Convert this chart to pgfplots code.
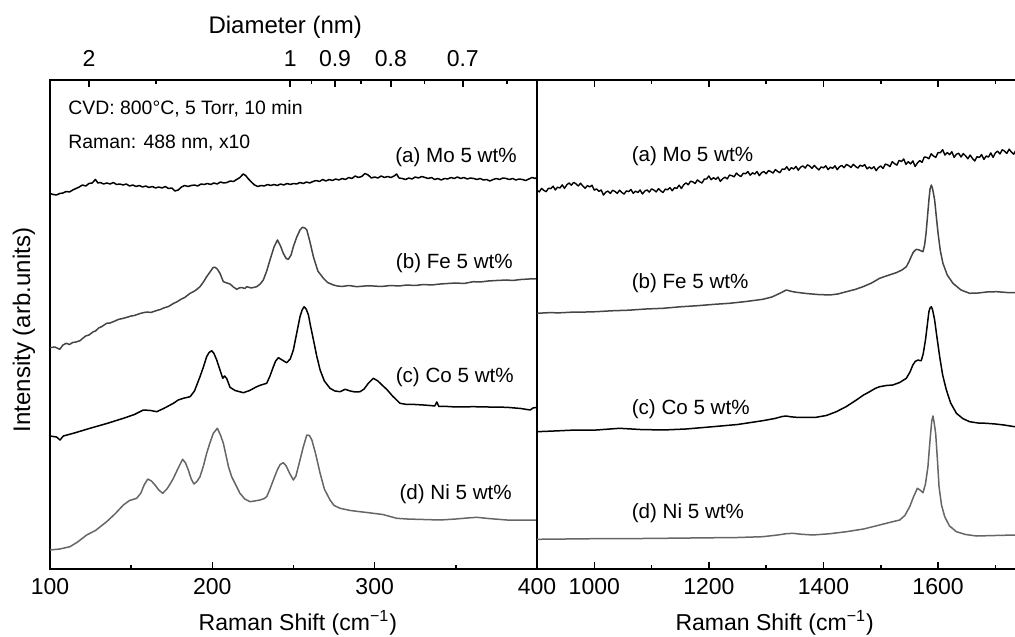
\documentclass[border=0pt]{standalone}
\usepackage{fontspec}
\setmainfont{Liberation Sans}
\usepackage{pgfplots}
\pgfplotsset{compat=1.18}

\definecolor{fegray}{gray}{0.27}
\definecolor{nigray}{gray}{0.40}

\pgfplotsset{
  panel/.style={
    scale only axis, width=243.5pt, height=244pt,
    ymin=0.5, ymax=488.5, ytick=\empty,
    axis line style={line width=1pt},
    major tick length=3.5pt, minor tick length=2pt,
    tick style={black, line width=0.8pt}, tick align=inside,
    /pgf/number format/assume math mode=true,
    /pgf/number format/1000 sep={},
    xticklabel style={font=\fontsize{11.5}{13}\selectfont},
    xticklabel shift=1.3pt,
    xlabel style={font=\fontsize{11.5}{13}\selectfont, anchor=center},
  },
  spec/.style={line width=0.75pt, line join=round},
}

\begin{document}
\begin{tikzpicture}
% left panel: RBM region
\begin{axis}[panel,
  xmin=100, xmax=400,
  xtick={100,200,300,400}, minor xtick={150,250,350}, xtick pos=left,
  xlabel={Raman Shift (cm\textsuperscript{−1})},
  xlabel style={at={(axis description cs:0.509,-0.1117)}},
  ylabel={Intensity (arb.units)},
  ylabel style={font=\fontsize{12}{14}\selectfont, anchor=center, at={(axis description cs:-0.0534,0.4887)}},
]
% (a) Mo
\addplot[spec, black] coordinates {
(100,375.5)(102,374.5)(104,374)(106,375.5)(108,376)(110,377.5)(112,377)(114,379)(116,380.5)(118,382)
(120,384)(122,383)(124,385.5)(126,386)(128,389.5)(129.5,386)(131,386.5)(133,385)(135,386)(137,385)
(139,386.5)(141,384.5)(143,385)(145,384)(147,385)(149,383)(151,384)(153,382.5)(155,383.5)(157,382)
(159,383)(161,381.5)(163,382.5)(165,381)(167,382)(169,381)(171,382.5)(173,380.5)(175,381)(177,378)
(179,379)(181,382)(183,383.5)(185,382.5)(187,383.5)(189,384)(191,383)(193,385)(195,384.5)(197,385.5)
(199,384.5)(201,386)(203,385)(205,387)(207,386)(209,386.5)(211,388)(213,387.5)(215,389.5)(217,391.5)
(219,395)(220.5,393.5)(222,390.5)(224,387)(226,384)(228,382.5)(230,383.5)(232,383)(234,384.5)(236,383.5)
(238,384.5)(240,383.5)(242,385)(244,384)(246,385.5)(248,384.5)(250,385.5)(252,385)(254,386.5)(256,385.5)
(258,387)(260,386)(262,387.5)(264,388.5)(266,387.5)(268,389.5)(270,388)(272,389.5)(274,388.5)(276,390)
(278,389)(280,390.5)(282,389.5)(284,391.5)(286,390.5)(288,393)(290,391.5)(292,392.5)(294,395.5)(296,394)
(298,391)(300,392)(302,391)(304,393)(306,391.5)(308,392.5)(310,391.5)(312,393)(313.5,395)(315,391)
(317,390.5)(319,389.5)(321,391)(323,390)(325,392)(327,391)(329,392.5)(331,391.5)(333,390.5)(335,391.5)
(337,389.5)(339,390.5)(341,389)(343,390.5)(345,390)(347,391.5)(349,390.5)(351,392)(353,390.5)(355,391.5)
(357,390)(359,391)(361,390.5)(363,389.5)(365,390.5)(367,389)(369,389.5)(371,388)(373,389.5)(375,390.5)
(377,389.5)(379,391)(381,390.5)(383,389.5)(385,390.5)(387,389)(389,390)(391,389.5)(393,388.5)(395,390)
(397,391.5)(399,390.5)(400,392)
};
% (b) Fe
\addplot[spec, fegray] coordinates {
(100,221.3)(103,222)(106,219.7)(108,224)(110,225.7)(112,224.5)(114,226.5)(116,227)(118.5,228.3)(120,230.5)
(122,233)(124,234)(126.7,237.3)(128,238)(130,241)(132,242.5)(134.9,245.7)(137,246)(140,248)(142,249.5)
(145.2,250.7)(147,251.5)(150,253)(152,253.5)(155.5,255.5)(158,256.5)(160,257)(162,256.5)(165.7,258.5)(168,259.5)
(170,261)(173,262.5)(176,265.5)(178,267)(181,270)(183,271.5)(186.3,275.7)(188,277)(190,279)(192.4,282.3)
(194.5,287)(196.5,292.3)(199,298)(200.5,301.5)(201.7,301.7)(203,300)(204.7,295.7)(206.8,287.3)(209,286)(210.9,285)
(213,282)(215,279.7)(216.5,281)(218,281.5)(220,280.5)(221.2,282.3)(224,281)(227.3,282.3)(229.5,285)(231.4,289)
(233.5,298)(235.5,309)(238,322)(240.1,329)(242,323)(243.7,315.7)(245.5,310.5)(246.8,309.7)(248.5,314)(249.9,322.3)
(252,332)(254,339)(255.5,341.7)(257,341)(258.2,339)(260,328)(262.3,312)(265,298)(268.4,290.7)(271,286.5)
(274.6,284)(277,283)(280,282.5)(284,283.5)(289,282.3)(294,283)(299,283)(304,282.5)(310,283.5)(315,283)
(319.8,284)(325,283.5)(330,284.5)(335,284)(340.3,285)(345,285.5)(350,286)(355,285.5)(360.8,287.3)(365,287)
(370,288)(375,288.5)(381.4,289)(385,288.5)(390,289.5)(395,290)(400,290.3)
};
% (c) Co
\addplot[spec, black] coordinates {
(100,133)(104,132)(106.2,129)(108.2,133)(115,136)(124.6,140.7)(135,145.5)(145.2,150.7)(152,154.5)(157.5,159)
(162,158.5)(165.7,157.3)(170,160.5)(176,165.7)(179,169)(182.1,170.7)(186.3,172.3)(189,178)(192.4,192.3)(194.5,202)
(196.5,212.3)(198,216.5)(199.6,218.3)(201,215.5)(202.7,209)(204.5,200)(206.4,190.7)(207.5,193)(208.8,190.7)(210.9,181.7)
(214,178.5)(219.1,176.3)(223,178.5)(227.3,182.3)(230,184)(233.5,185.7)(235.5,193)(237.6,202.3)(239,208)(240.7,211.3)
(242.5,209.5)(245.8,206.3)(248,210)(249.9,219)(252,236)(254,252.3)(255.3,259)(256.5,262.3)(257.8,260)(259.2,254)
(260.5,243)(262.3,229)(264.3,213)(266.4,199)(269,188)(272.5,180.7)(275.5,178)(278.7,177.3)(281.8,179.7)(285,178)
(288,177)(291,177.3)(293.5,180)(296,185.5)(299.2,190.7)(302,188)(304.5,184)(307.4,179.7)(311,173)(315.6,165.7)
(320,164.5)(325,164.5)(330,164)(334,163.5)(337,163)(338.3,167)(339.5,162.5)(345,162.5)(350,162)(360.8,162.3)
(370,162)(381.4,161.7)(390,160.5)(395.8,159)(397.5,161)(400,161.7)
};
% (d) Ni
\addplot[spec, nigray] coordinates {
(100,19)(106,20)(112.3,22.3)(117,27)(122.6,34)(128,38.5)(134.9,47.3)(140,55)(145.2,64)(149,68.5)
(153.4,70.7)(156,76)(158,84)(160.2,90)(162.5,88)(164.7,84)(167,79)(169.4,75.7)(172,80)(174,85)
(176,90.7)(179,101)(181.7,109.7)(183.5,106)(185.2,99)(187,90)(188.7,85)(190.5,87.5)(192.4,92.3)(194.5,103)
(196.5,115.7)(198.5,126)(200.6,135.7)(203.1,140.7)(205,134)(206.8,125.7)(208.5,113)(210,102)(211.9,92.3)(214,85.5)
(217,75.7)(220,70)(223.2,67.3)(226,68)(229.4,69)(232,70.5)(233.5,72.3)(235.5,80)(237.6,89)(240,99)
(241.8,104.5)(243.7,106.3)(245.5,103)(247.5,96)(249.9,89)(251.5,93)(254,109)(256,122)(258.2,134)(259.8,133.5)
(261.3,129)(263.5,116)(266.4,95.7)(269,80)(272.5,69)(275,63.5)(278.7,60.7)(285,58.5)(290,57.5)(299.2,55.7)
(305,54.5)(313.6,50.7)(320,50)(330,49.5)(340.3,49)(350,50)(357,51)(362.9,51.7)(370,50.5)(381.4,49)
(390,49)(400,49)
};
\node[anchor=west, inner sep=0pt, font=\fontsize{9.7}{11}\selectfont] at (axis cs:111.1,460) {CVD: 800°C, 5 Torr, 10 min};
\node[anchor=west, inner sep=0pt, font=\fontsize{9.7}{11}\selectfont] at (axis cs:111.1,426) {Raman: 488 nm, x10};
\node[anchor=east, inner sep=0pt, font=\fontsize{10.3}{12}\selectfont] at (axis cs:387.7,412) {(a) Mo 5 wt\%};
\node[anchor=east, inner sep=0pt, font=\fontsize{10.3}{12}\selectfont] at (axis cs:385.3,306) {(b) Fe 5 wt\%};
\node[anchor=east, inner sep=0pt, font=\fontsize{10.3}{12}\selectfont] at (axis cs:385.9,192) {(c) Co 5 wt\%};
\node[anchor=east, inner sep=0pt, font=\fontsize{10.3}{12}\selectfont] at (axis cs:384.7,75) {(d) Ni 5 wt\%};
\end{axis}

% top diameter axis of left panel, d = 248/w
\begin{axis}[panel,
  xmin=100, xmax=400,
  axis x line*=top, axis y line=none,
  xtick={124,248,275.56,310,354.29}, xticklabels={2,1,0.9,0.8,0.7},
  minor xtick={165.33,261.05,291.76,330.67,381.54},
  xticklabel shift=3.3pt,
  xlabel={Diameter (nm)},
  xlabel style={font=\fontsize{12}{14}\selectfont, at={(axis description cs:0.483,1.1096)}},
]
\end{axis}

% right panel: D and G bands
\begin{axis}[panel, at={(243.5pt,0)}, anchor=south west,
  xmin=900, xmax=1750,
  xtick={1000,1200,1400,1600}, minor xtick={1100,1300,1500,1700},
  xlabel={Raman Shift (cm\textsuperscript{−1})},
  xlabel style={at={(axis description cs:0.488,-0.1117)}},
]
% (a) Mo
\addplot[spec, black, line width=0.7pt] coordinates {
(900,378.8)(904,377.1)(908,380.6)(912,378.6)(916,377.3)(920,380.8)(924,380.4)(928,382.8)(932,379.1)(936,381.8)
(940,381.0)(944,384.1)(948,380.7)(952,384.2)(956,386.0)(960,383.8)(964,386.6)(968,385.2)(972,383.0)(976,385.8)
(980,382.9)(984,380.7)(988,383.4)(992,382.1)(996,383.7)(1000,378.9)(1004,380.1)(1008,377.6)(1012,379.0)(1016,373.9)
(1020,376.8)(1024,377.9)(1028,375.6)(1032,378.7)(1036,377.6)(1040,375.6)(1044,378.8)(1048,376.5)(1052,374.9)(1056,378.1)
(1060,377.4)(1064,379.5)(1068,375.6)(1072,377.9)(1076,376.5)(1080,379.0)(1084,375.0)(1088,377.9)(1092,379.1)(1096,376.9)
(1100,380.1)(1104,379.0)(1108,377.1)(1112,380.3)(1116,378.1)(1120,376.5)(1124,379.9)(1128,379.2)(1132,381.4)(1136,378.2)
(1140,381.3)(1144,380.6)(1148,383.8)(1152,380.5)(1156,384.2)(1160,386.1)(1164,384.2)(1168,387.8)(1172,387.1)(1176,385.5)
(1180,389.1)(1184,387.2)(1188,386.0)(1192,389.9)(1196,390.0)(1200,393.0)(1204,389.3)(1208,391.3)(1212,389.7)(1216,391.9)
(1220,387.6)(1224,390.2)(1228,391.8)(1232,390.1)(1236,393.9)(1240,393.4)(1244,392.1)(1248,395.9)(1252,393.8)(1256,392.4)
(1260,395.8)(1264,395.2)(1268,397.5)(1272,393.8)(1276,396.2)(1280,394.9)(1284,397.4)(1288,393.4)(1292,396.3)(1296,397.5)
(1300,395.2)(1304,398.4)(1308,397.4)(1312,395.9)(1316,399.4)(1320,397.6)(1324,396.3)(1328,400.0)(1332,399.6)(1336,402.2)
(1340,398.6)(1344,401.3)(1348,400.0)(1352,402.6)(1356,398.8)(1360,401.8)(1364,403.1)(1368,400.9)(1372,404.2)(1376,402.9)
(1380,400.7)(1384,403.6)(1388,401.1)(1392,399.1)(1396,402.1)(1400,401.1)(1404,403.2)(1408,399.4)(1412,401.9)(1416,400.6)
(1420,403.2)(1424,399.3)(1428,402.3)(1432,403.6)(1436,401.3)(1440,404.5)(1444,403.4)(1448,401.5)(1452,404.7)(1456,402.5)
(1460,400.9)(1464,403.8)(1468,402.7)(1472,404.4)(1476,400.1)(1480,402.0)(1484,400.2)(1488,402.3)(1492,398.4)(1496,401.5)
(1500,403.0)(1504,400.6)(1508,404.9)(1512,404.2)(1516,402.4)(1520,407.4)(1524,405.3)(1528,403.9)(1532,408.6)(1536,407.5)
(1540,410.0)(1544,404.6)(1548,407.3)(1552,405.1)(1556,408.1)(1560,402.5)(1564,406.0)(1568,408.4)(1572,406.6)(1576,412.0)
(1580,411.7)(1584,410.3)(1588,415.2)(1592,413.0)(1596,411.6)(1600,416.5)(1604,416.3)(1608,419.3)(1612,413.9)(1616,416.5)
(1620,414.3)(1624,417.3)(1628,411.6)(1632,414.8)(1636,415.7)(1640,412.0)(1644,415.4)(1648,413.2)(1652,410.2)(1656,413.9)
(1660,410.5)(1664,408.0)(1668,412.3)(1672,411.5)(1676,414.4)(1680,409.5)(1684,413.0)(1688,411.9)(1692,416.1)(1696,411.6)
(1700,416.1)(1704,417.8)(1708,415.0)(1712,419.2)(1716,417.9)(1720,415.6)(1724,419.8)(1728,416.9)(1732,414.8)(1736,419.0)
(1740,418.1)(1744,420.9)(1748,415.9)
};
% (b) Fe
\addplot[spec, fegray] coordinates {
(900,255.7)(920,256.3)(940,256.2)(960,256.8)(980,256.9)(1003.7,257.3)(1030,258.2)(1060,258.8)(1090,260)(1120,260.7)
(1150,262.2)(1180,263.3)(1210,264.7)(1236,265.7)(1265,267.5)(1294,269.7)(1310,272)(1325,276)(1335,279)(1345,277.5)
(1352.7,276.7)(1370,275.5)(1390,274.5)(1410.8,274)(1425,275)(1440,277.3)(1455,279.5)(1469,282.3)(1484,286)(1498,290.7)
(1512,293.5)(1527,296.3)(1537,299)(1544.6,302.3)(1549,307)(1553,312.3)(1557,317)(1562,319.7)(1567,319)(1573.6,317.3)
(1576.5,324)(1579,335.7)(1581.5,352)(1584,369)(1586,380)(1588.3,384)(1590.5,380)(1592.5,374)(1594,369)(1597,352)
(1600,335.7)(1604,318)(1608.5,305.7)(1616,294)(1626,285.7)(1640,279)(1655,275.7)(1670,276)(1685,277)(1701.7,277.3)
(1720,276.5)(1733.7,276.3)(1750,276)
};
% (c) Co
\addplot[spec, black] coordinates {
(900,137.3)(930,138)(960,138.8)(1003.7,139)(1044,140.7)(1080,139.5)(1120,139)(1160,140)(1207,142.3)(1250,144.5)
(1294,148.3)(1315,150.5)(1328,152.5)(1335,153)(1343,152.2)(1352.7,151.7)(1370,151.5)(1387,151.7)(1405,153.5)(1422.5,157.3)
(1440,162.5)(1457.4,169)(1470,174)(1480.6,177.3)(1490,180.5)(1498,182.3)(1510,183.5)(1521,184)(1533,186.5)(1544.6,190.7)
(1551,197)(1556,204)(1560,207.5)(1564.8,209)(1568,208.5)(1570.6,208.3)(1574,215)(1578,229)(1581,243)(1584,257.3)
(1586,261)(1588.3,262.3)(1590.5,259)(1594,249)(1598,232)(1602.8,212.3)(1608,194)(1614.5,179)(1622,166)(1632,155.7)
(1643,150.5)(1655,147.3)(1670,146)(1684.3,145.7)(1700,145)(1715,144)(1733.7,142.3)(1750,141.5)
};
% (d) Ni
\addplot[spec, nigray] coordinates {
(900,29.7)(950,30)(1000,30.3)(1050,30.3)(1120,30.7)(1200,31.2)(1250,31.5)(1294,32.3)(1320,34)(1335,35.3)
(1346.8,35.7)(1360,34.8)(1381,34)(1410,35.2)(1440,37.3)(1470,40)(1498,44)(1515,46.5)(1533,49)(1542,53.5)
(1550.5,62.3)(1557,72)(1563.9,80.7)(1568.5,79)(1573.6,76.3)(1578,85)(1582.3,102.3)(1585,122)(1587,135.7)(1589,148)
(1591.1,153)(1593,147)(1595.8,135.7)(1599,108)(1601.7,82.3)(1606,64)(1611.6,52.3)(1620,43)(1632,37.3)(1648,34.5)
(1667,33)(1700,33.5)(1733.7,34)(1750,34)
};
\node[anchor=west, inner sep=0pt, font=\fontsize{10.3}{12}\selectfont] at (axis cs:1064.7,413) {(a) Mo 5 wt\%};
\node[anchor=west, inner sep=0pt, font=\fontsize{10.3}{12}\selectfont] at (axis cs:1064.7,286) {(b) Fe 5 wt\%};
\node[anchor=west, inner sep=0pt, font=\fontsize{10.3}{12}\selectfont] at (axis cs:1064.7,160) {(c) Co 5 wt\%};
\node[anchor=west, inner sep=0pt, font=\fontsize{10.3}{12}\selectfont] at (axis cs:1064.7,56) {(d) Ni 5 wt\%};
\end{axis}

% page = the reference's frame; the right panel runs past it, as in the source
\pgfresetboundingbox
\path (-25pt,-33.75pt) rectangle (482.5pt,284.25pt);
\end{tikzpicture}
\end{document}
